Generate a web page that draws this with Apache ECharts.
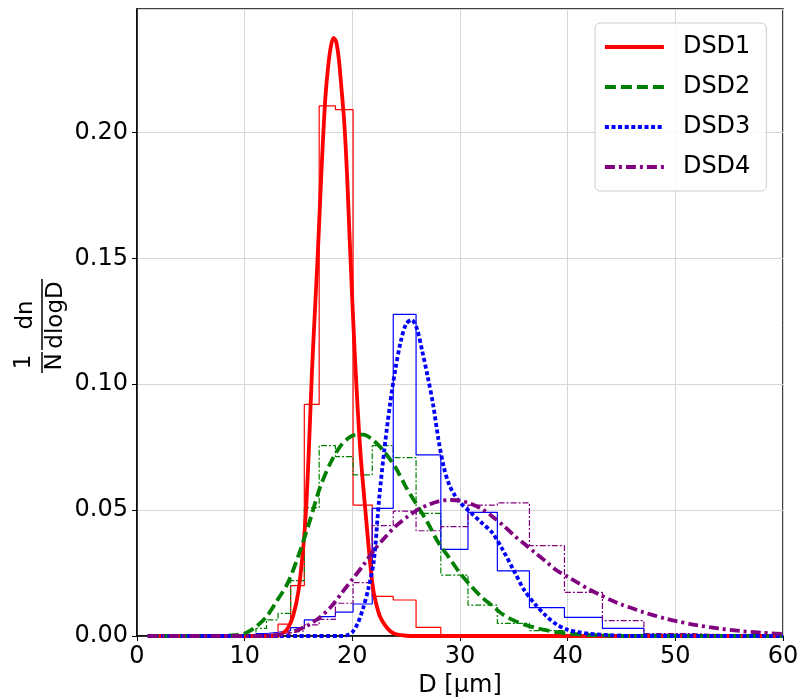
<!DOCTYPE html>
<html>
<head>
<meta charset="utf-8">
<script src="https://cdn.jsdelivr.net/npm/echarts@6/dist/echarts.min.js"></script>
<style>
html, body { margin: 0; padding: 0; background: #fff; }
#chart { width: 800px; height: 697px; }
</style>
</head>
<body>
<div id="chart"></div>
<script>
const xTicks = [0, 10, 20, 30, 40, 50, 60]
const yTicks = [0, 0.05, 0.10, 0.15, 0.20]

// histogram bin edges (D, um)
const binEdges = [10.15, 11.05, 12.03, 13.10, 14.27, 15.54, 16.92, 18.43, 20.07, 21.85, 23.80,
  25.92, 28.22, 30.74, 33.47, 36.45, 39.70, 43.23, 47.08, 51.27, 55.83]

const hist1 = [0, 0.0005, 0.001, 0.0047, 0.020, 0.092, 0.2105, 0.209, 0.052, 0.0157,
  0.0143, 0.0034, 0.0006, 0.0002, 0, 0, 0, 0, 0, 0]
const hist2 = [0.0005, 0.003, 0.0064, 0.009, 0.022, 0.051, 0.0756, 0.0712, 0.064, 0.0756,
  0.0708, 0.0487, 0.0242, 0.0123, 0.005, 0.0021, 0.0006, 0.0002, 0, 0]
const hist3 = [0, 0.001, 0.0015, 0.0021, 0.0033, 0.0064, 0.0077, 0.0095, 0.0127, 0.0507,
  0.1277, 0.0719, 0.0344, 0.0491, 0.0259, 0.0113, 0.0074, 0.003, 0.0007, 0.0002]
const hist4 = [0, 0.0003, 0.0008, 0.0013, 0.002, 0.0044, 0.0066, 0.013, 0.0212, 0.0438,
  0.0496, 0.0418, 0.0434, 0.052, 0.0529, 0.0359, 0.0173, 0.0061, 0.001, 0.0003]

// fitted curves [D, 1/N dn/dlogD]
const dsd1 = [[1, 0], [13, 0], [13.5, 0.001], [14, 0.003], [14.5, 0.008], [15, 0.018], [15.5, 0.038],
  [15.75, 0.054], [16, 0.078], [16.25, 0.105], [16.5, 0.127], [16.75, 0.148], [17, 0.172],
  [17.25, 0.195], [17.5, 0.214], [17.75, 0.226], [18, 0.234], [18.25, 0.2375], [18.5, 0.236],
  [18.75, 0.229], [19, 0.217], [19.25, 0.204], [19.5, 0.184], [19.75, 0.158], [20, 0.133],
  [20.25, 0.11], [20.5, 0.09], [20.75, 0.073], [21, 0.06], [21.25, 0.048], [21.5, 0.036],
  [21.75, 0.025], [22, 0.017], [22.5, 0.0085], [23, 0.0045], [23.5, 0.002], [24, 0.0008],
  [25, 0.0001], [26, 0], [60, 0]]
const dsd2 = [[1, 0], [8, 0], [9, 0.0003], [10, 0.001], [11, 0.0035], [12, 0.0075], [13, 0.014],
  [14, 0.021], [15, 0.032], [16, 0.045], [17, 0.059], [18, 0.069], [19, 0.076], [20, 0.0795],
  [21, 0.08], [22, 0.0775], [23, 0.073], [24, 0.067], [25, 0.059], [26, 0.052], [27, 0.045],
  [28, 0.037], [29, 0.031], [30, 0.025], [31, 0.020], [32, 0.0155], [33, 0.012], [34, 0.0085],
  [35, 0.0062], [36, 0.0045], [37, 0.0033], [38, 0.0023], [39, 0.0015], [40, 0.001],
  [42, 0.0004], [45, 0.0001], [50, 0], [60, 0]]
const dsd3 = [[1, 0], [19, 0], [19.5, 0.0003], [20, 0.0015], [20.5, 0.005], [21, 0.011],
  [21.5, 0.019], [22, 0.030], [22.5, 0.055], [23, 0.075], [23.5, 0.092], [24, 0.106],
  [24.5, 0.117], [25, 0.124], [25.5, 0.1255], [26, 0.122], [26.5, 0.113], [27, 0.103],
  [27.5, 0.092], [28, 0.078], [28.5, 0.067], [29, 0.060], [29.5, 0.056], [30, 0.053],
  [31, 0.049], [32, 0.045], [33, 0.041], [34, 0.034], [35, 0.026], [36, 0.018], [37, 0.0125],
  [38, 0.008], [39, 0.0045], [40, 0.0025], [41, 0.0015], [42, 0.0009], [44, 0.0003],
  [46, 0], [60, 0]]
const dsd4 = [[1, 0], [12, 0], [13, 0.0003], [14, 0.001], [15, 0.0025], [16, 0.0045], [17, 0.0075],
  [18, 0.0115], [19, 0.017], [20, 0.0225], [21, 0.028], [22, 0.034], [23, 0.039], [24, 0.0435],
  [25, 0.047], [26, 0.050], [27, 0.052], [28, 0.0535], [29, 0.054], [30, 0.0538], [31, 0.0525],
  [32, 0.0505], [33, 0.0475], [34, 0.044], [35, 0.040], [36, 0.0365], [37, 0.033], [38, 0.0295],
  [39, 0.026], [40, 0.0235], [41, 0.021], [42, 0.0185], [43, 0.0163], [44, 0.0143], [45, 0.0125],
  [46, 0.011], [47, 0.0095], [48, 0.0082], [49, 0.007], [50, 0.006], [52, 0.0043], [54, 0.003],
  [56, 0.002], [58, 0.0013], [60, 0.0008]]

const names = ['DSD1', 'DSD2', 'DSD3', 'DSD4']
const colors = ['#ff0000', '#008000', '#0000ff', '#800080']

const font = 'DejaVu Sans'

// step outline like matplotlib histtype='step'
function stepOutline(edges, heights) {
  let pts = [[edges[0], 0]]
  for (let i = 0; i < heights.length; i++) {
    pts.push([edges[i], heights[i]])
    pts.push([edges[i + 1], heights[i]])
  }
  pts.push([edges[edges.length - 1], 0])
  return pts
}

const histStyles = ['solid', [6, 2, 2, 2], 'solid', [6, 2, 2, 2]]
const curveStyles = ['solid', [11, 5], [4, 2.6], [10, 4, 3, 4]]
const curveWidth = 3.8

let series = []
;[hist1, hist2, hist3, hist4].forEach((h, i) => {
  series.push({
    name: names[i] + ' hist',
    type: 'line',
    data: stepOutline(binEdges, h),
    symbol: 'none',
    lineStyle: { color: colors[i], width: 1.2, type: histStyles[i] },
    z: 2
  })
})
;[dsd1, dsd2, dsd3, dsd4].forEach((d, i) => {
  series.push({
    name: names[i],
    type: 'line',
    data: d,
    symbol: 'none',
    smooth: 0.3,
    itemStyle: { color: colors[i] },
    lineStyle: { color: colors[i], width: curveWidth, type: curveStyles[i], cap: 'butt' },
    z: 3
  })
})

let legendData = names.map((n, i) => ({
  name: n,
  itemStyle: { opacity: 0 },
  lineStyle: { color: colors[i], width: curveWidth, type: curveStyles[i], cap: 'butt' }
}))

const chart = echarts.init(document.getElementById('chart'))
chart.setOption({
  animation: false,
  backgroundColor: '#fff',
  grid: {
    left: 137, right: 17, top: 9, bottom: 61,
    outerBoundsMode: 'none', containLabel: false,
    show: true, borderColor: '#000', borderWidth: 1.5
  },
  xAxis: {
    type: 'value',
    min: xTicks[0], max: xTicks[xTicks.length - 1], interval: 10,
    name: 'D [μm]', nameLocation: 'middle', nameGap: 33,
    nameTextStyle: { fontFamily: font, fontSize: 24, color: '#000' },
    axisLine: { show: true, lineStyle: { color: '#000', width: 1.5 } },
    axisTick: { show: true, length: 5, lineStyle: { color: '#000' } },
    axisLabel: { fontFamily: font, fontSize: 24, color: '#000', margin: 9 },
    splitLine: { show: true, lineStyle: { color: '#d6d6d6', width: 1 } }
  },
  yAxis: {
    type: 'value',
    min: yTicks[0], max: 0.249, interval: 0.05,
    axisLine: { show: true, lineStyle: { color: '#000', width: 1.5 } },
    axisTick: { show: true, length: 5, lineStyle: { color: '#000' } },
    axisLabel: {
      fontFamily: font, fontSize: 24, color: '#000', margin: 9, showMaxLabel: false,
      formatter: v => yTicks.some(t => Math.abs(t - v) < 1e-9) ? v.toFixed(2) : ''
    },
    splitLine: { show: true, lineStyle: { color: '#d6d6d6', width: 1 } }
  },
  legend: {
    data: legendData,
    orient: 'vertical',
    left: 595, top: 23,
    padding: [12, 16, 12, 8],
    itemWidth: 59, itemHeight: 16, itemGap: 16,
    backgroundColor: 'rgba(255,255,255,0.8)',
    borderColor: '#cccccc', borderWidth: 1, borderRadius: 5,
    textStyle: { fontFamily: font, fontSize: 24, color: '#000', lineHeight: 24, padding: [0, 0, 0, 14] }
  },
  graphic: [
    { type: 'text', x: 24, y: 362, rotation: Math.PI / 2,
      style: { text: '1', fontFamily: font, fontSize: 23, fill: '#000', align: 'center', verticalAlign: 'middle' } },
    { type: 'text', x: 55, y: 362, rotation: Math.PI / 2,
      style: { text: 'N', fontFamily: font, fontSize: 23, fill: '#000', align: 'center', verticalAlign: 'middle' } },
    { type: 'line', shape: { x1: 42, y1: 352, x2: 42, y2: 373 }, style: { stroke: '#000', lineWidth: 1.5 } },
    { type: 'text', x: 26, y: 315, rotation: Math.PI / 2,
      style: { text: 'dn', fontFamily: font, fontSize: 23, fill: '#000', align: 'center', verticalAlign: 'middle' } },
    { type: 'text', x: 56, y: 315, rotation: Math.PI / 2,
      style: { text: 'dlogD', fontFamily: font, fontSize: 23, fill: '#000', align: 'center', verticalAlign: 'middle' } },
    { type: 'line', shape: { x1: 42, y1: 279, x2: 42, y2: 350 }, style: { stroke: '#000', lineWidth: 1.5 } }
  ],
  series: series
})
</script>
</body>
</html>
